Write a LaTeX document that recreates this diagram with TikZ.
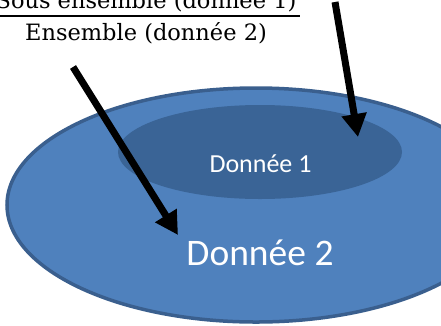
\documentclass[tikz,border=0pt]{standalone}
\usepackage{fontspec}
\usetikzlibrary{shapes.geometric,arrows.meta}
\newfontfamily\labelfont{Carlito}
\newfontfamily\fracfont{DejaVu Serif}
\definecolor{setfill}{HTML}{4F81BD}
\definecolor{setedge}{HTML}{3A5F8E}
\definecolor{subfill}{HTML}{3A6496}
\tikzset{
  setshape/.style={ellipse, inner sep=0pt, fill=setfill, draw=setedge, line width=3.5pt},
  subshape/.style={ellipse, inner sep=0pt, fill=subfill},
  setlabel/.style={text=white, inner sep=0pt, font=\labelfont},
  fractext/.style={inner sep=0pt, font=\fracfont\fontsize{22.5}{26}\selectfont},
  pointer/.style={line width=7pt, -{Triangle[length=23pt, width=24pt]}},
}
\begin{document}
\begin{tikzpicture}[x=1pt, y=-1pt]
  \useasboundingbox (0,0) rectangle (441,325);
  \clip (0,0) rectangle (441,325);
  % the whole set and its subset
  \node[setshape, minimum width=498pt, minimum height=234pt] (ens) at (256,205) {};
  \node[subshape, minimum width=284pt, minimum height=94pt] (sous) at (260,152) {};
  \node[setlabel, font=\labelfont\fontsize{26}{30}\selectfont] (d1) at (260.5,163.5) {Donnée 1};
  \node[setlabel, font=\labelfont\fontsize{37.5}{42}\selectfont] (d2) at (260,253) {Donnée 2};
  % the ratio written above
  \node[fractext, anchor=base] (num) at (146,8) {Sous ensemble (donnée 1)};
  \node[fractext, anchor=base] (den) at (146,40) {Ensemble (donnée 2)};
  \coordinate (barL) at (-5,16);
  \coordinate (barR) at (300,16);
  \draw[line width=2pt] (barL) -- (barR);
  % pointers from the ratio to the sets
  \coordinate (tailA) at (73,67);
  \coordinate (tipA) at (178,235);
  \coordinate (tailB) at (335,2);
  \coordinate (tipB) at (358,137);
  \draw[pointer] (tailA) -- (tipA);
  \draw[pointer] (tailB) -- (tipB);
\end{tikzpicture}
\end{document}
